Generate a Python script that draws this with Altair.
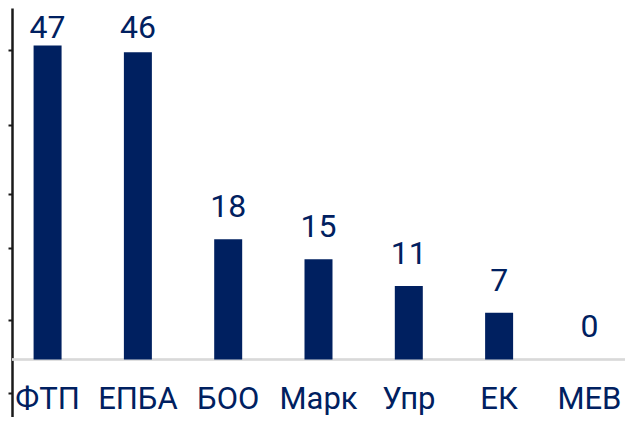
import altair as alt
import pandas as pd

categories = ["ФТП", "ЕПБА", "БОО", "Марк", "Упр", "ЕК", "МЕВ"]
values = [47, 46, 18, 15, 11, 7, 0]
side_ticks = [46.33, 35.10, 24.78, 16.69, 5.91, -5.0]

df = pd.DataFrame({"cat": categories, "val": values})

NAVY = "#002060"
FONT = "Roboto"

x = alt.X(
    "cat:N",
    sort=categories,
    title=None,
    scale=alt.Scale(paddingInner=0.690, paddingOuter=0.239, align=0.50),
    axis=alt.Axis(
        orient="bottom",
        domain=False,
        ticks=False,
        tickSize=0,
        labelAngle=0,
        labelFont=FONT,
        labelFontSize=31,
        labelColor=NAVY,
        labelBaseline="alphabetic",
        labelPadding=-9,
        labelOverlap=False,
        labelFlush=False,
    ),
)

yscale = alt.Scale(domain=[-8.61, 52.62], nice=False, zero=False)

bars = alt.Chart(df).mark_bar(color=NAVY).encode(
    x=x,
    y=alt.Y(
        "val:Q",
        scale=yscale,
        title=None,
        axis=alt.Axis(
            values=side_ticks,
            labels=False,
            grid=False,
            domain=True,
            domainColor="#1a1a1a",
            domainWidth=2.5,
            ticks=True,
            tickColor="#1a1a1a",
            tickWidth=2,
            tickSize=4,
        ),
    ),
    y2=alt.datum(0),
)

base_rule = alt.Chart(df).mark_rule(color="#d9d9d9", strokeWidth=1.5).encode(
    y=alt.datum(0)
)

labels = (
    alt.Chart(df)
    .transform_calculate(ly="min(datum.val, 44.9)")
    .mark_text(
        color=NAVY,
        font=FONT,
        fontSize=32,
        baseline="alphabetic",
        align="center",
        dy=-22,
    )
    .encode(x=x, y=alt.Y("ly:Q", scale=yscale), text=alt.Text("val:Q"))
)

chart = (
    alt.layer(base_rule, bars, labels)
    .properties(
        width=613,
        height=409,
        autosize=alt.AutoSizeParams(type="none"),
        padding={"left": 4, "top": 0, "right": 0, "bottom": 0},
    )
    .configure_view(stroke=None)
)

chart.save("out.html", embed_options={"renderer": "svg", "actions": False})
